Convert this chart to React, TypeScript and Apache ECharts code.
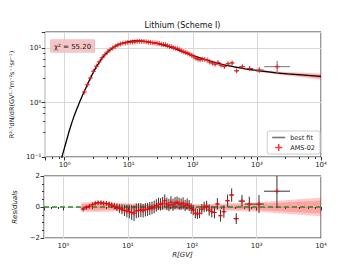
import { useEffect, useRef } from 'react';
import * as echarts from 'echarts';

// AMS-02 lithium bins (GV)
const binCenters = [2.03, 2.27, 2.53, 2.82, 3.13, 3.46, 3.83, 4.22, 4.65, 5.12,
  5.63, 6.18, 6.78, 7.42, 8.12, 8.87, 9.68, 10.55, 11.5, 12.5,
  13.55, 14.7, 15.95, 17.3, 18.75, 20.3, 21.95, 23.75, 25.7, 27.75,
  29.95, 32.3, 34.8, 37.5, 40.4, 43.5, 46.8, 50.35, 54.15, 58.2,
  62.55, 67.25, 72.3, 77.7, 83.5, 89.75, 96.5, 104, 112, 120.5,
  130, 141, 153.5, 167.5, 183.5, 201.5, 222, 246, 275, 310.5,
  354.5, 410, 483, 592.5, 770, 1090, 2070];
const binEdges = [1.92, 2.15, 2.4, 2.67, 2.97, 3.29, 3.64, 4.02, 4.43, 4.88,
  5.37, 5.9, 6.47, 7.09, 7.76, 8.48, 9.26, 10.1, 11.0, 12.0,
  13.0, 14.1, 15.3, 16.6, 18.0, 19.5, 21.1, 22.8, 24.7, 26.7,
  28.8, 31.1, 33.5, 36.1, 38.9, 41.9, 45.1, 48.5, 52.2, 56.1,
  60.3, 64.8, 69.7, 74.9, 80.5, 86.5, 93.0, 100, 108, 116,
  125, 135, 147, 160, 175, 192, 211, 233, 259, 291,
  330, 379, 441, 525, 660, 880, 1300, 3300];
const fluxValues = [1.58, 2.13, 2.85, 3.8, 4.66, 5.63, 6.68, 7.63, 8.54, 9.46,
  10.2, 10.95, 11.5, 12.0, 12.35, 12.6, 12.85, 13.0, 13.1, 13.15,
  13.45, 13.5, 13.4, 13.3, 13.2, 13.0, 12.85, 12.7, 12.5, 12.4,
  12.25, 11.95, 11.8, 11.7, 11.2, 10.85, 10.7, 10.25, 10.05, 9.8,
  9.4, 8.95, 8.7, 8.4, 8.15, 7.75, 7.4, 7.0, 6.55, 6.3,
  6.15, 6.3, 6.25, 6.1, 5.6, 5.35, 5.1, 5.5, 4.9, 4.65,
  5.2, 5.4, 3.85, 4.6, 4.25, 4.0, 4.6];
const fluxErrors = [0.03, 0.04, 0.06, 0.08, 0.09, 0.11, 0.13, 0.15, 0.17, 0.19,
  0.2, 0.22, 0.23, 0.24, 0.25, 0.25, 0.26, 0.33, 0.33, 0.33,
  0.34, 0.34, 0.34, 0.33, 0.33, 0.33, 0.32, 0.32, 0.31, 0.31,
  0.31, 0.3, 0.3, 0.29, 0.29, 0.28, 0.27, 0.27, 0.26, 0.25,
  0.25, 0.24, 0.22, 0.22, 0.21, 0.2, 0.19, 0.25, 0.23, 0.23,
  0.22, 0.23, 0.23, 0.23, 0.22, 0.27, 0.26, 0.28, 0.26, 0.33,
  0.37, 0.39, 0.29, 0.37, 0.38, 0.44, 1.25];
const residualValues = [-0.13, -0.04, 0.05, 0.15, 0.24, 0.28, 0.27, 0.24, 0.22, 0.18,
  0.12, 0.05, -0.02, -0.1, -0.15, -0.22, -0.26, -0.3, -0.36, -0.4,
  -0.25, -0.22, -0.2, -0.24, -0.18, -0.15, -0.1, -0.06, 0.0, 0.1,
  0.2, 0.17, 0.24, 0.4, 0.2, 0.13, 0.3, 0.15, 0.25, 0.3,
  0.22, 0.19, 0.25, 0.1, 0.19, 0.1, -0.1, -0.2, -0.4, -0.45,
  -0.4, -0.15, 0.0, 0.05, -0.2, -0.3, -0.35, 0.2, -0.56, -0.3,
  0.4, 0.77, -0.75, 0.38, 0.19, 0.19, 1.02];
const residualErrors = [0.08, 0.08, 0.09, 0.1, 0.1, 0.11, 0.12, 0.13, 0.14, 0.16,
  0.18, 0.2, 0.24, 0.28, 0.32, 0.36, 0.4, 0.44, 0.47, 0.5,
  0.48, 0.46, 0.45, 0.44, 0.43, 0.42, 0.42, 0.41, 0.41, 0.4,
  0.4, 0.4, 0.41, 0.41, 0.4, 0.4, 0.4, 0.39, 0.39, 0.38,
  0.38, 0.37, 0.37, 0.36, 0.36, 0.35, 0.34, 0.33, 0.32, 0.32,
  0.32, 0.33, 0.34, 0.35, 0.36, 0.37, 0.38, 0.37, 0.38, 0.4,
  0.4, 0.43, 0.35, 0.4, 0.48, 0.58, 1.1];

// best-fit model curve
const fitRigidity = [0.85, 0.91, 1.0, 1.2, 1.4, 1.7, 2.0, 2.5, 3, 3.5, 4, 5, 6, 7, 8, 10, 12, 14, 17, 20,
  25, 30, 40, 50, 70, 100, 150, 200, 300, 500, 700, 1000, 2000, 3000, 5000, 10000];
const fitFlux = [0.065, 0.1, 0.15, 0.32, 0.56, 1.0, 1.55, 2.75, 4.2, 5.6, 7.0, 9.1, 10.7, 11.8, 12.5, 13.3, 13.7, 13.75, 13.55, 13.2,
  12.6, 12.0, 11.0, 10.1, 8.6, 7.4, 6.3, 5.7, 5.0, 4.45, 4.15, 3.9, 3.55, 3.4, 3.25, 3.05];
// relative half-widths of the uncertainty bands
const fitBandOuter = [0.015, 0.015, 0.015, 0.015, 0.015, 0.015, 0.015, 0.015, 0.015, 0.015, 0.015, 0.015, 0.015, 0.015, 0.015, 0.015, 0.015, 0.015, 0.015, 0.015,
  0.015, 0.015, 0.015, 0.015, 0.015, 0.015, 0.016, 0.018, 0.022, 0.03, 0.037, 0.045, 0.065, 0.08, 0.1, 0.13];
const fitBandInner = [0.009, 0.009, 0.009, 0.009, 0.009, 0.009, 0.009, 0.009, 0.009, 0.009, 0.009, 0.009, 0.009, 0.009, 0.009, 0.009, 0.009, 0.009, 0.009, 0.009,
  0.009, 0.009, 0.009, 0.009, 0.009, 0.009, 0.01, 0.011, 0.013, 0.018, 0.022, 0.027, 0.04, 0.05, 0.063, 0.085];
// residual-space bands
const resBandRigidity = [1.9, 3, 5, 10, 20, 50, 100, 300, 1000, 3000, 10000];
const resBandOuter = [0.3, 0.32, 0.3, 0.25, 0.2, 0.2, 0.2, 0.22, 0.3, 0.45, 0.6];
const resBandInner = [0.2, 0.22, 0.2, 0.17, 0.13, 0.13, 0.13, 0.15, 0.2, 0.3, 0.42];

const chiSquare = '55.20';
const FONT = 'DejaVu Sans';
const PLUS = 'path://M4,0h2v10h-2zM0,4h10v2h-10z';

const SUP: Record<string, string> = { '0': '⁰', '1': '¹', '2': '²', '3': '³', '4': '⁴', '5': '⁵', '6': '⁶', '7': '⁷', '8': '⁸', '9': '⁹', '-': '⁻' };
function logLabel(v: number): string {
  const e = Math.log10(v);
  const r = Math.round(e);
  if (Math.abs(e - r) > 1e-6) return '';
  return '10' + String(r).split('').map((c) => SUP[c]).join('');
}

function bandSeries(axis: number, xs: number[], lows: number[], highs: number[], color: string, z: number) {
  return {
    type: 'custom',
    xAxisIndex: axis,
    yAxisIndex: axis,
    silent: true,
    clip: true,
    z,
    data: [[xs[0], highs[0]]],
    encode: { x: 0, y: 1 },
    renderItem: (_p: any, api: any) => {
      const pts: number[][] = [];
      for (let i = 0; i < xs.length; i++) pts.push(api.coord([xs[i], highs[i]]));
      for (let i = xs.length - 1; i >= 0; i--) pts.push(api.coord([xs[i], lows[i]]));
      return { type: 'polygon', shape: { points: pts }, style: { fill: color } };
    },
  };
}

function errorSeries(axis: number, ys: number[], errs: number[], color: string) {
  return {
    type: 'custom',
    xAxisIndex: axis,
    yAxisIndex: axis,
    silent: true,
    clip: true,
    z: 4,
    data: binCenters.map((x, i) => [x, ys[i], binEdges[i], binEdges[i + 1], errs[i]]),
    encode: { x: 0, y: 1 },
    renderItem: (_p: any, api: any) => {
      const x = api.value(0), y = api.value(1), lo = api.value(2), hi = api.value(3), e = api.value(4);
      const top = api.coord([x, y + e]);
      const bot = api.coord([x, Math.max(y - e, axis === 0 ? 1e-3 : -10)]);
      const l = api.coord([lo, y]);
      const r = api.coord([hi, y]);
      const st = { stroke: color, lineWidth: 1 };
      return {
        type: 'group',
        children: [
          { type: 'line', shape: { x1: top[0], y1: top[1], x2: bot[0], y2: bot[1] }, style: st },
          { type: 'line', shape: { x1: l[0], y1: l[1], x2: r[0], y2: r[1] }, style: st },
        ],
      };
    },
  };
}

export default function App() {
  const ref = useRef<HTMLDivElement>(null);
  useEffect(() => {
    if (!ref.current) return;
    const chart = echarts.init(ref.current, undefined, { renderer: 'svg' });
    const axisLabel = { fontSize: 7, fontFamily: FONT, color: '#222' };
    const splitLine = { show: true, lineStyle: { color: '#d9d9d9', width: 1 } };
    const xCommon = {
      type: 'log',
      logBase: 10,
      min: 0.5,
      max: 10000,
      axisLine: { show: false },
      axisTick: { show: true, length: 3.5, lineStyle: { color: '#333' } },
      minorTick: { show: true, splitNumber: 5, length: 2, lineStyle: { color: '#333' } },
      splitLine,
      axisLabel: { ...axisLabel, margin: 4, formatter: logLabel },
    };
    const fitBandLowOuter = fitFlux.map((f, i) => f * (1 - fitBandOuter[i]));
    const fitBandHighOuter = fitFlux.map((f, i) => f * (1 + fitBandOuter[i]));
    const fitBandLowInner = fitFlux.map((f, i) => f * (1 - fitBandInner[i]));
    const fitBandHighInner = fitFlux.map((f, i) => f * (1 + fitBandInner[i]));
    const resLowOuter = resBandOuter.map((v) => -v);
    const resLowInner = resBandInner.map((v) => -v);

    chart.setOption({
      animation: false,
      backgroundColor: '#fff',
      grid: [
        { left: 44, right: 36, top: 32, height: 125, show: true, borderColor: '#333', borderWidth: 1, backgroundColor: 'transparent' },
        { left: 44, right: 36, top: 176, height: 62, show: true, borderColor: '#333', borderWidth: 1, backgroundColor: 'transparent' },
      ],
      xAxis: [
        { ...xCommon, gridIndex: 0 },
        {
          ...xCommon,
          gridIndex: 1,
          name: 'R[GV]',
          nameLocation: 'middle',
          nameGap: 13,
          nameTextStyle: { fontSize: 7, fontFamily: FONT, fontStyle: 'italic', color: '#222' },
        },
      ],
      yAxis: [
        {
          type: 'log',
          logBase: 10,
          min: 0.1,
          max: 20,
          gridIndex: 0,
          axisLine: { show: false },
          axisTick: { show: true, length: 3.5, lineStyle: { color: '#333' } },
          minorTick: { show: true, splitNumber: 5, length: 2, lineStyle: { color: '#333' } },
          splitLine,
          axisLabel: { ...axisLabel, margin: 4, formatter: logLabel },
          name: 'R²·⁷dN/dR(GV¹·⁷m⁻²s⁻¹sr⁻¹)',
          nameLocation: 'middle',
          nameGap: 20,
          nameRotate: 90,
          nameTextStyle: { fontSize: 6.5, fontFamily: FONT, color: '#222' },
        },
        {
          type: 'value',
          min: -2,
          max: 2,
          interval: 2,
          gridIndex: 1,
          axisLine: { show: false },
          axisTick: { show: true, length: 3.5, lineStyle: { color: '#333' } },
          minorTick: { show: true, splitNumber: 4, length: 2, lineStyle: { color: '#333' } },
          splitLine,
          axisLabel: { ...axisLabel, margin: 4, formatter: (v: number) => (v < 0 ? '−' + Math.abs(v) : String(v)) },
          name: 'Residuals',
          nameLocation: 'middle',
          nameGap: 15,
          nameRotate: 90,
          nameTextStyle: { fontSize: 7, fontFamily: FONT, fontStyle: 'italic', color: '#222' },
        },
      ],
      legend: {
        orient: 'vertical',
        right: 37,
        top: 131,
        backgroundColor: '#fff',
        borderColor: '#ccc',
        borderWidth: 1,
        borderRadius: 2,
        padding: [3, 5, 3, 5],
        itemGap: 3,
        itemWidth: 13,
        itemHeight: 7,
        textStyle: { fontSize: 6.5, fontFamily: FONT, color: '#222' },
        data: [
          { name: 'best fit', icon: 'path://M0,0h13v1.6h-13z', itemStyle: { color: '#777' } },
          { name: 'AMS-02', icon: PLUS, itemStyle: { color: '#ff0000' } },
        ],
      },
      graphic: [
        {
          type: 'text',
          x: 182.5,
          y: 25,
          style: { text: 'Lithium (Scheme I)', align: 'center', verticalAlign: 'middle', fontSize: 8, fontFamily: FONT, fill: '#111' },
        },
        {
          type: 'text',
          x: 51,
          y: 40,
          z: 10,
          style: {
            text: 'χ² = ' + chiSquare,
            fontSize: 7,
            fontFamily: FONT,
            fill: '#111',
            backgroundColor: '#f6c5c5',
            borderColor: '#e8a6a6',
            borderWidth: 0.6,
            padding: [3, 3, 2, 3],
          },
        },
      ],
      series: [
        bandSeries(0, fitRigidity, fitBandLowOuter, fitBandHighOuter, 'rgba(255,0,0,0.2)', 1),
        bandSeries(0, fitRigidity, fitBandLowInner, fitBandHighInner, 'rgba(255,0,0,0.2)', 1),
        {
          name: 'best fit',
          type: 'line',
          xAxisIndex: 0,
          yAxisIndex: 0,
          data: fitRigidity.map((x, i) => [x, fitFlux[i]]),
          symbol: 'none',
          smooth: 0.25,
          lineStyle: { color: '#000', width: 1.3 },
          z: 3,
        },
        errorSeries(0, fluxValues, fluxErrors, '#777'),
        {
          name: 'AMS-02',
          type: 'scatter',
          xAxisIndex: 0,
          yAxisIndex: 0,
          data: binCenters.map((x, i) => [x, fluxValues[i]]),
          symbol: PLUS,
          symbolSize: 5,
          itemStyle: { color: '#ff0000' },
          z: 5,
        },
        bandSeries(1, resBandRigidity, resLowOuter, resBandOuter, 'rgba(255,0,0,0.2)', 1),
        bandSeries(1, resBandRigidity, resLowInner, resBandInner, 'rgba(255,0,0,0.2)', 1),
        {
          type: 'line',
          xAxisIndex: 1,
          yAxisIndex: 1,
          data: [[0.5, 0], [10000, 0]],
          symbol: 'none',
          lineStyle: { color: '#2e8b2e', width: 1.3, type: [5, 3] },
          z: 3,
        },
        errorSeries(1, residualValues, residualErrors, '#333'),
        {
          type: 'scatter',
          xAxisIndex: 1,
          yAxisIndex: 1,
          data: binCenters.map((x, i) => [x, residualValues[i]]),
          symbol: PLUS,
          symbolSize: 5,
          itemStyle: { color: '#ff0000' },
          z: 5,
        },
      ],
    });
    return () => chart.dispose();
  }, []);
  return <div ref={ref} style={{ width: 357, height: 268, margin: -8 }} />;
}
